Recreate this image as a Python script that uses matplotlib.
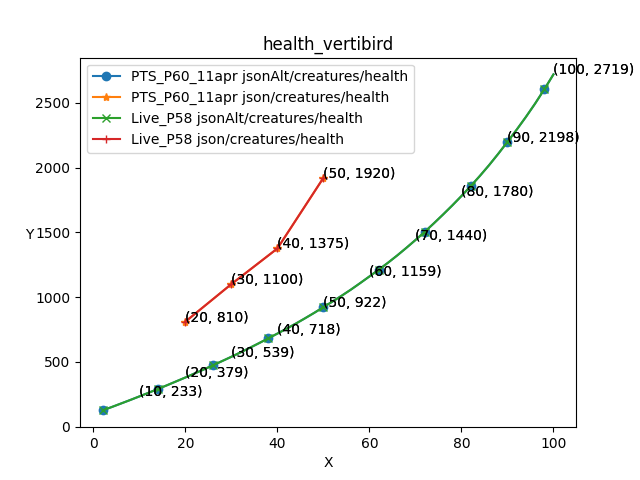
import matplotlib
matplotlib.use('Agg')
import matplotlib.pyplot as plt

# curve (jsonAlt series, both builds identical)
alt_x = [2, 4, 6, 8, 10, 12, 14, 16, 18, 20, 22, 24, 26, 28, 30, 32, 34, 36, 38, 40,
         42, 44, 46, 48, 50, 52, 54, 56, 58, 60, 62, 64, 66, 68, 70, 72, 74, 76, 78, 80,
         82, 84, 86, 88, 90, 92, 94, 96, 98, 100]
alt_y = [125, 151, 178, 205, 233, 261, 290, 319, 349, 379, 410, 441, 473, 506, 539,
         573, 608, 644, 681, 718, 756, 795, 836, 878, 922, 966, 1011, 1058, 1108, 1159,
         1211, 1264, 1320, 1379, 1440, 1503, 1569, 1637, 1707, 1780, 1856, 1935, 2018,
         2106, 2198, 2292, 2390, 2493, 2603, 2719]

# plain json series
json_x = [20, 30, 40, 50]
json_y = [810, 1100, 1375, 1920]

labels = [
    "PTS_P60_11apr jsonAlt/creatures/health",
    "PTS_P60_11apr json/creatures/health",
    "Live_P58 jsonAlt/creatures/health",
    "Live_P58 json/creatures/health",
]

fig, ax = plt.subplots(figsize=(6.4, 4.8), dpi=100)

ax.plot(alt_x, alt_y, marker='o', markevery=0.1, label=labels[0])
ax.plot(json_x, json_y, marker='*', label=labels[1])
ax.plot(alt_x, alt_y, marker='x', markevery=0.1, label=labels[2])
ax.plot(json_x, json_y, marker='+', label=labels[3])

# annotate every 10th level, once per series
for xs, ys in [(alt_x, alt_y), (json_x, json_y), (alt_x, alt_y), (json_x, json_y)]:
    for x, y in zip(xs, ys):
        if x % 10 == 0:
            ax.annotate(f"({x}, {y})", (x, y))

ax.set_title("health_vertibird")
ax.set_xlabel("X")
ax.set_ylabel("Y", rotation=0)
ax.legend(loc='upper left')

plt.savefig("out.png", dpi=100)
plt.close()
